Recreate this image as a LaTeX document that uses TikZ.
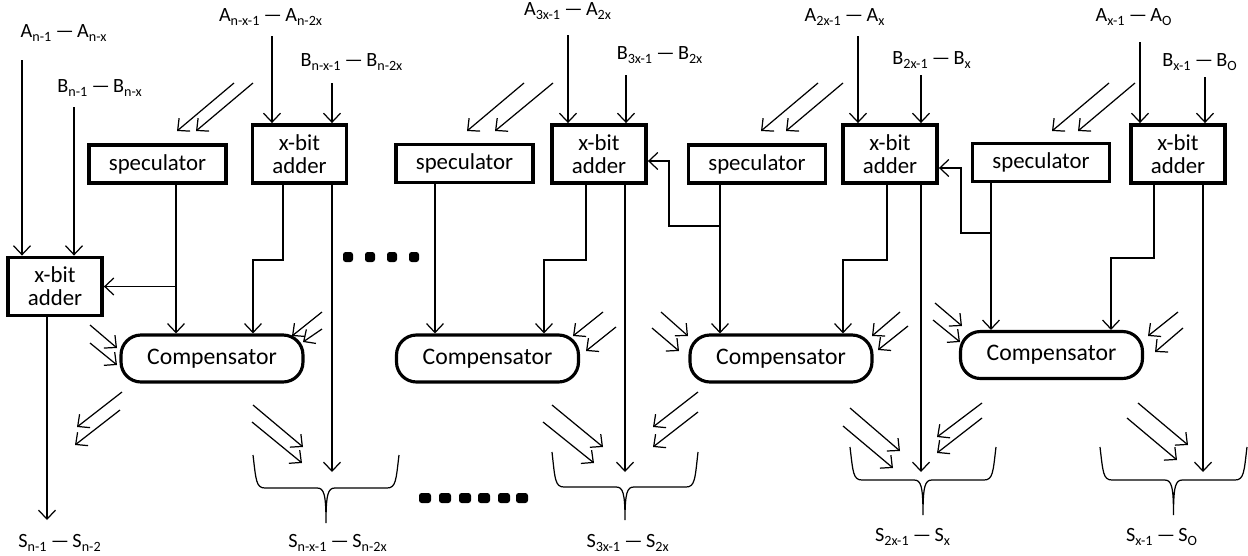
\documentclass[tikz,border=0pt]{standalone}
\usepackage{fontspec}
\setmainfont{Carlito}
\usetikzlibrary{arrows.meta}

\newcommand{\rng}{\,—\,}

\begin{document}
\begin{tikzpicture}[
  x = 0.02cm,
  y = -0.02cm,
  adder/.style = {
    draw,
    line width = 2.2pt,
    minimum width = 1.88cm,
    minimum height = 1.16cm,
    align = center,
    inner sep = 1pt,
    font = \fontsize{13}{13}\selectfont
  },
  spec/.style = {
    draw,
    line width = 1.9pt,
    minimum width = 2.74cm,
    minimum height = 0.76cm,
    font = \fontsize{13}{13}\selectfont
  },
  comp/.style = {
    draw,
    line width = 1.8pt,
    rounded corners = 0.4cm,
    minimum width = 3.64cm,
    minimum height = 0.94cm,
    font = \fontsize{13.5}{13.5}\selectfont
  },
  lbl/.style = {
    inner sep = 0pt,
    font = \fontsize{11.5}{13}\selectfont
  },
  sig/.style = {
    line width = 0.7pt,
    -{Straight Barb[length=1.8mm, width=3.4mm]}
  }
]
  \useasboundingbox (0,0) rectangle (1248,555);

  % blocks
  \node[adder] (add1) at (55,286.5) {x-bit\\adder};
  \node[adder] (add2) at (299.5,154) {x-bit\\adder};
  \node[adder] (add3) at (599,154) {x-bit\\adder};
  \node[adder] (add4) at (890,154) {x-bit\\adder};
  \node[adder] (add5) at (1178,154) {x-bit\\adder};

  \node[spec] (spec1) at (157.5,164) {speculator};
  \node[spec] (spec2) at (464.5,163.5) {speculator};
  \node[spec] (spec3) at (757,164) {speculator};
  \node[spec] (spec4) at (1041,162.5) {speculator};

  \node[comp] (comp1) at (212,358.5) {Compensator};
  \node[comp] (comp2) at (487.5,358.5) {Compensator};
  \node[comp] (comp3) at (781,358.5) {Compensator};
  \node[comp] (comp4) at (1051.5,355) {Compensator};

  % operand labels
  \node[lbl] (la1) at (64,33) {A\textsubscript{n-1}\rng A\textsubscript{n-x}};
  \node[lbl] (lb1) at (100,88) {B\textsubscript{n-1}\rng B\textsubscript{n-x}};
  \node[lbl] (la2) at (271,17) {A\textsubscript{n-x-1}\rng A\textsubscript{n-2x}};
  \node[lbl] (lb2) at (352,62) {B\textsubscript{n-x-1}\rng B\textsubscript{n-2x}};
  \node[lbl] (la3) at (568,11) {A\textsubscript{3x-1}\rng A\textsubscript{2x}};
  \node[lbl] (lb3) at (660,55) {B\textsubscript{3x-1}\rng B\textsubscript{2x}};
  \node[lbl] (la4) at (845,17) {A\textsubscript{2x-1}\rng A\textsubscript{x}};
  \node[lbl] (lb4) at (932,60) {B\textsubscript{2x-1}\rng B\textsubscript{x}};
  \node[lbl] (la5) at (1134,17) {A\textsubscript{x-1}\rng A\textsubscript{O}};
  \node[lbl] (lb5) at (1200,62) {B\textsubscript{x-1}\rng B\textsubscript{O}};

  % sum labels
  \node[lbl] (ls1) at (60,543) {S\textsubscript{n-1}\rng S\textsubscript{n-2}};
  \node[lbl] (ls2) at (338,543) {S\textsubscript{n-x-1}\rng S\textsubscript{n-2x}};
  \node[lbl] (ls3) at (628,543) {S\textsubscript{3x-1}\rng S\textsubscript{2x}};
  \node[lbl] (ls4) at (913,537) {S\textsubscript{2x-1}\rng S\textsubscript{x}};
  \node[lbl] (ls5) at (1162,537) {S\textsubscript{x-1}\rng S\textsubscript{O}};

  % operand inputs
  \coordinate (ia1) at (22,60);
  \coordinate (ib1) at (74,107);
  \coordinate (ia2) at (272,36);
  \coordinate (ib2) at (332,83);
  \coordinate (ia3) at (568,35);
  \coordinate (ib3) at (626,75);
  \coordinate (ia4) at (858,36);
  \coordinate (ib4) at (921,75);
  \coordinate (ia5) at (1140,42);
  \coordinate (ib5) at (1205,77);
  \draw[sig] (ia1) -- (ia1 |- add1.north);
  \draw[sig] (ib1) -- (ib1 |- add1.north);
  \draw[sig] (ia2) -- (ia2 |- add2.north);
  \draw[sig] (ib2) -- (ib2 |- add2.north);
  \draw[sig] (ia3) -- (ia3 |- add3.north);
  \draw[sig] (ib3) -- (ib3 |- add3.north);
  \draw[sig] (ia4) -- (ia4 |- add4.north);
  \draw[sig] (ib4) -- (ib4 |- add4.north);
  \draw[sig] (ia5) -- (ia5 |- add5.north);
  \draw[sig] (ib5) -- (ib5 |- add5.north);

  % sum outputs
  \coordinate (os1) at (47,520);
  \coordinate (os2) at (332,472);
  \coordinate (os3) at (625,472);
  \coordinate (os4) at (921,472);
  \coordinate (os5) at (1203,472);
  \draw[sig] (os1 |- add1.south) -- (os1);
  \draw[sig] (os2 |- add2.south) -- (os2);
  \draw[sig] (os3 |- add3.south) -- (os3);
  \draw[sig] (os4 |- add4.south) -- (os4);
  \draw[sig] (os5 |- add5.south) -- (os5);

  % adder to compensator
  \coordinate (ol2) at (283,260);
  \coordinate (ol3) at (586,260);
  \coordinate (ol4) at (887,260);
  \coordinate (ol5) at (1154,258);
  \coordinate (ic1) at (253,0);
  \coordinate (ic2) at (544,0);
  \coordinate (ic3) at (843,0);
  \coordinate (ic4) at (1111,0);
  \draw[sig] (ol2 |- add2.south) -- (ol2) -| (ic1 |- comp1.north);
  \draw[sig] (ol3 |- add3.south) -- (ol3) -| (ic2 |- comp2.north);
  \draw[sig] (ol4 |- add4.south) -- (ol4) -| (ic3 |- comp3.north);
  \draw[sig] (ol5 |- add5.south) -- (ol5) -| (ic4 |- comp4.north);

  % speculator to compensator and carry-in
  \coordinate (so1) at (176,0);
  \coordinate (so2) at (435,0);
  \coordinate (so3) at (720,0);
  \coordinate (so4) at (991,0);
  \coordinate (br3) at (669,226);
  \coordinate (br4) at (961,233);
  \draw[sig] (so1 |- spec1.south) -- (so1 |- comp1.north);
  \draw[sig] (so2 |- spec2.south) -- (so2 |- comp2.north);
  \draw[sig] (so3 |- spec3.south) -- (so3 |- comp3.north);
  \draw[sig] (so4 |- spec4.south) -- (so4 |- comp4.north);
  \draw[sig] (so1 |- add1.east) -- (add1.east);
  \draw[sig] (so3 |- br3) -- (br3) |- ([yshift=-0.14cm]add3.east);
  \draw[sig] (so4 |- br4) -- (br4) |- ([yshift=-0.28cm]add4.east);

  % carry pairs
  \foreach \xa/\ya/\xb/\yb in {
      234/83/177/131, 253/83/196/131,
      524/83/467/131, 553/83/495/131,
      818/83/761/131, 843/83/786/131,
      1109/83/1052/131, 1135/83/1078/131,
      90/325/117/348, 90/343/117/365,
      322/312/292/336, 322/329/303/342,
      122/392/77/427, 120/410/75/445,
      253/405/303/447, 252/422/302/463,
      603/312/573/336, 616/327/586/351,
      552/405/603/447, 543/422/594/463,
      661/312/688/336, 652/328/679/351,
      900/312/872/336, 908/326/878/350,
      698/392/653/427, 698/412/653/447,
      850/408/900/451, 843/426/893/468,
      935/303/962/326, 933/320/960/342,
      1178/312/1148/336, 1183/328/1155/352,
      982/403/937/437, 982/418/937/453,
      1138/403/1188/445, 1127/418/1177/460}
    \draw[sig] (\xa,\ya) -- (\xb,\yb);

  % braces
  \foreach \l/\r/\t/\m/\b in {253/399/455/488/523, 552/698/452/487/520,
                              850/996/447/480/515, 1100/1247/447/480/515} {
    \pgfmathsetmacro\c{(\l+\r)/2}
    \draw[line width=0.7pt] (\l,\t) .. controls (\l+3,\m-8) and (\l+3,\m) .. (\l+12,\m)
      -- (\c-9,\m) .. controls (\c-2,\m) and (\c,\m+6) .. (\c,\b)
      .. controls (\c,\m+6) and (\c+2,\m) .. (\c+9,\m)
      -- (\r-12,\m) .. controls (\r-3,\m) and (\r-3,\m-8) .. (\r,\t);
  }

  % dots
  \foreach \x in {348,370,392,414}
    \fill[rounded corners=1.5pt] (\x-5,252) rectangle (\x+5,262);
  \foreach \x in {425,445,465,484,504,522}
    \fill[rounded corners=1.5pt] (\x-6,493) rectangle (\x+6,503);
\end{tikzpicture}
\end{document}
